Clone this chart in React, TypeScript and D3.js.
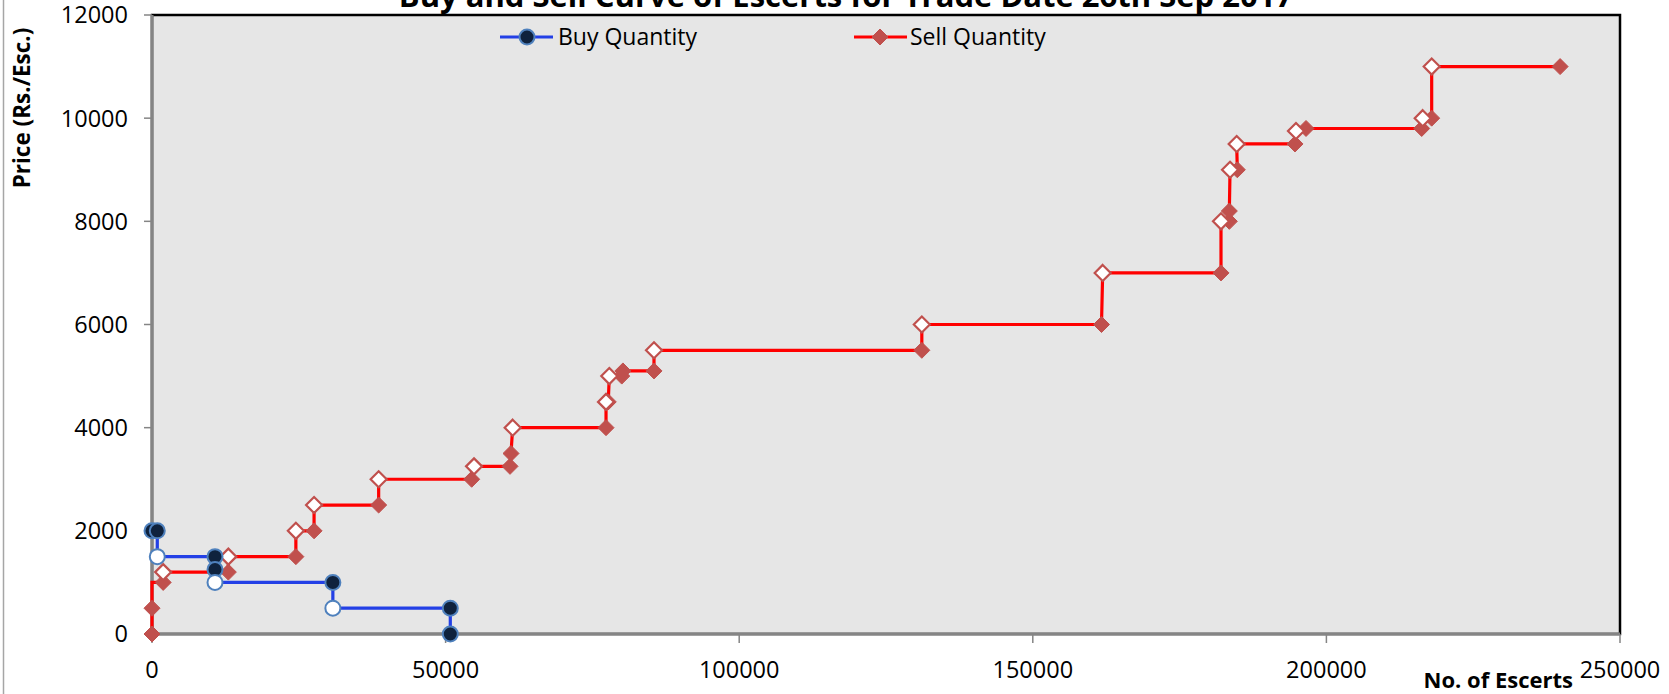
import React from "react";
import * as d3 from "d3";

// ---- data ----
const xTicks = [0, 50000, 100000, 150000, 200000, 250000];
const yTicks = [0, 2000, 4000, 6000, 8000, 10000, 12000];

// Buy curve (F = filled marker, O = open marker, N = none)
const buyQty = [0, 900, 900, 10730, 10730, 10730, 30800, 30800, 50800, 50800];
const buyPrice = [2000, 2000, 1500, 1500, 1250, 1000, 1000, 500, 500, 0];
const buyMark = ["F", "F", "O", "F", "F", "O", "F", "O", "F", "F"];

// Sell curve
const sellQty = [
  0, 0, 0, 1900, 1900, 13000, 13000, 24500, 24500, 27600, 27600, 38600, 38600,
  54440, 54840, 60970, 61140, 61420, 77320, 77320, 77700, 77880, 80000, 80200,
  85490, 85490, 131100, 131100, 161700, 161900, 182050, 182050, 183470, 183470,
  183590, 184830, 184720, 194650, 194820, 196530, 216230, 216400, 217930,
  217930, 239800,
];
const sellPrice = [
  0, 500, 1000, 1000, 1200, 1200, 1500, 1500, 2000, 2000, 2500, 2500, 3000,
  3000, 3250, 3250, 3500, 4000, 4000, 4500, 4500, 5000, 5000, 5100, 5100, 5500,
  5500, 6000, 6000, 7000, 7000, 8000, 8000, 8200, 9000, 9000, 9500, 9500, 9750,
  9800, 9800, 10000, 10000, 11000, 11000,
];
const sellMark = [
  "F", "F", "N", "F", "O", "F", "O", "F", "O", "F", "O", "F", "O", "F", "O",
  "F", "F", "O", "F", "O", "F", "O", "F", "F", "F", "O", "F", "O", "F", "O",
  "F", "O", "F", "F", "O", "F", "O", "F", "O", "F", "F", "O", "F", "O", "F",
];

const title = "Buy and Sell Curve of Escerts for Trade Date 26th Sep 2017";
const xTitle = "No. of Escerts";
const yTitle = "Price (Rs./Esc.)";
const buyName = "Buy Quantity";
const sellName = "Sell Quantity";

const W = 1669;
const H = 694;
const L = 152, R = 1620, T = 15, B = 634;
const FONT = "'Open Sans', 'DejaVu Sans', sans-serif";

const BLUE = "#2340e6";
const RED = "#ff0000";
const NAVY = "#0f223d";
const BLUE_EDGE = "#4f81bd";
const DIAMOND = "#c0504d";

function Diamond({ x, y, open, s = 8 }: { x: number; y: number; open: boolean; s?: number }) {
  const d = `M${x},${y - s}L${x + s},${y}L${x},${y + s}L${x - s},${y}Z`;
  return open ? (
    <path d={d} fill="#ffffff" stroke={DIAMOND} strokeWidth={2.2} />
  ) : (
    <path d={d} fill={DIAMOND} stroke={DIAMOND} strokeWidth={1} />
  );
}

function Dot({ x, y, open }: { x: number; y: number; open: boolean }) {
  return (
    <circle cx={x} cy={y} r={7.5} fill={open ? "#ffffff" : NAVY} stroke={BLUE_EDGE} strokeWidth={2} />
  );
}

export default function App() {
  const xs = d3.scaleLinear().domain([0, 250000]).range([L, R]);
  const ys = d3.scaleLinear().domain([0, 12000]).range([B, T]);
  const line = d3
    .line<[number, number]>()
    .x((d) => xs(d[0]))
    .y((d) => ys(d[1]));

  const buyPts: [number, number][] = buyQty.map((q, i) => [q, buyPrice[i]]);
  const sellPts: [number, number][] = sellQty.map((q, i) => [q, sellPrice[i]]);

  const order = (m: string) => (m === "F" ? 0 : 1);
  const buyIdx = buyQty.map((_, i) => i).sort((a, b) => order(buyMark[a]) - order(buyMark[b]));
  const sellIdx = sellQty.map((_, i) => i).sort((a, b) => order(sellMark[a]) - order(sellMark[b]));

  return (
    <svg
      width={W}
      height={H}
      style={{ position: "absolute", left: 0, top: 0, background: "#ffffff" }}
      fontFamily={FONT}
    >
      <rect x={0} y={0} width={W} height={H} fill="#ffffff" />
      <line x1={3.5} y1={0} x2={3.5} y2={H} stroke="#a6a6a6" strokeWidth={1.5} />

      {/* plot area */}
      <rect x={L} y={T} width={R - L} height={B - T} fill="#e6e6e6" stroke="#000" strokeWidth={2.5} />
      <line x1={L} y1={T} x2={L} y2={B} stroke="#858585" strokeWidth={3} />
      <line x1={L} y1={B} x2={R} y2={B} stroke="#858585" strokeWidth={3} />

      {/* y axis */}
      {yTicks.map((t) => (
        <g key={"y" + t}>
          <line x1={L - 8} x2={L} y1={ys(t)} y2={ys(t)} stroke="#858585" strokeWidth={1.5} />
          <text x={128} y={ys(t)} dy="0.36em" textAnchor="end" fontSize={23.5} fill="#000">
            {t}
          </text>
        </g>
      ))}
      {/* x axis */}
      {xTicks.map((t) => (
        <g key={"x" + t}>
          <line x1={xs(t)} x2={xs(t)} y1={B} y2={B + 9} stroke="#858585" strokeWidth={1.5} />
          <text x={xs(t)} y={678} textAnchor="middle" fontSize={23.5} fill="#000">
            {t}
          </text>
        </g>
      ))}

      {/* titles */}
      <text x={846} y={7} textAnchor="middle" fontSize={31} fontWeight="bold" fill="#000">
        {title}
      </text>
      <text x={1573} y={688} textAnchor="end" fontSize={22} fontWeight="bold" fill="#000">
        {xTitle}
      </text>
      <text
        transform={`translate(30,108) rotate(-90)`}
        textAnchor="middle"
        fontSize={22.5}
        fontWeight="bold"
        fill="#000"
      >
        {yTitle}
      </text>

      {/* series lines */}
      <path d={line(sellPts) ?? ""} fill="none" stroke={RED} strokeWidth={3.2} />
      <path d={line(buyPts) ?? ""} fill="none" stroke={BLUE} strokeWidth={3.2} />

      {/* markers */}
      {sellIdx
        .filter((i) => sellMark[i] !== "N")
        .map((i) => (
          <Diamond key={"s" + i} x={xs(sellQty[i])} y={ys(sellPrice[i])} open={sellMark[i] === "O"} />
        ))}
      {buyIdx
        .filter((i) => buyMark[i] !== "N")
        .map((i) => (
          <Dot key={"b" + i} x={xs(buyQty[i])} y={ys(buyPrice[i])} open={buyMark[i] === "O"} />
        ))}

      {/* legend */}
      <g>
        <line x1={500} x2={553} y1={37} y2={37} stroke={BLUE} strokeWidth={3.2} />
        <Dot x={527} y={37} open={false} />
        <text x={558} y={37} dy="0.36em" fontSize={23} fill="#000">
          {buyName}
        </text>
        <line x1={854} x2={907} y1={37} y2={37} stroke={RED} strokeWidth={3.2} />
        <Diamond x={880} y={37} open={false} />
        <text x={910} y={37} dy="0.36em" fontSize={23} fill="#000">
          {sellName}
        </text>
      </g>
    </svg>
  );
}
